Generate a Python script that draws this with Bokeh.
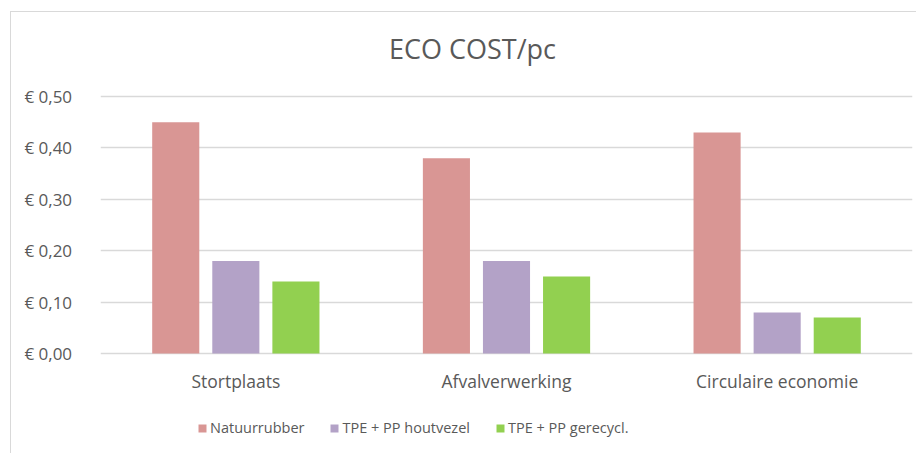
from bokeh.plotting import figure
from bokeh.models import FactorRange, FixedTicker, Legend, LegendItem, ColumnDataSource, Range1d
from bokeh.core.properties import value
from bokeh.transform import dodge
from bokeh.embed import file_html
from bokeh.resources import INLINE

categories = ["Stortplaats", "Afvalverwerking", "Circulaire economie"]
series_names = ["Natuurrubber", "TPE + PP houtvezel", "TPE + PP gerecycl."]
natuurrubber = [0.45, 0.38, 0.43]
tpe_houtvezel = [0.18, 0.18, 0.08]
tpe_gerecycl = [0.14, 0.15, 0.07]
y_ticks = [0.0, 0.1, 0.2, 0.3, 0.4, 0.5]
y_tick_labels = ["€  0,00", "€  0,10", "€  0,20", "€  0,30", "€  0,40", "€  0,50"]
title_text = "ECO COST/pc"
colors = ["#D99694", "#B3A2C7", "#92D050"]

FONT = "Open Sans"
TXT = "#595959"

# layout (pixels)
FRAME_H = 441
PX_PER_UNIT = 514.0           # 0.10 per 51.4 px
ZERO_FROM_TOP = 341           # frame px from top to value 0
y_top = ZERO_FROM_TOP / PX_PER_UNIT
y_bottom = -(FRAME_H - ZERO_FROM_TOP) / PX_PER_UNIT
cat_label_y = -27 / PX_PER_UNIT
title_y = 48 / PX_PER_UNIT + 0.5

source = ColumnDataSource(dict(cat=categories, a=natuurrubber, b=tpe_houtvezel, c=tpe_gerecycl))

p = figure(x_range=FactorRange(*categories, range_padding=0), y_range=Range1d(y_bottom, y_top),
           frame_width=812, frame_height=FRAME_H, output_backend="svg", toolbar_location=None,
           x_axis_location=None,
           min_border_left=89, min_border_right=4, min_border_top=0, min_border_bottom=0)
p.styles = {"border-left": "1px solid #D9D9D9", "border-top": "1px solid #D9D9D9",
            "margin-left": "10px", "margin-top": "11px"}

renderers = []
offsets = [-0.222, 0.0, 0.222]
for key, off, col in zip(["a", "b", "c"], offsets, colors):
    r = p.vbar(x=dodge("cat", off, range=p.x_range), top=key, width=0.174, source=source,
               fill_color=col, line_color=None)
    renderers.append(r)

# category labels
p.text(x=categories, y=[cat_label_y] * len(categories), text=categories,
       text_font=value(FONT), text_font_size="17.5px", text_color=TXT,
       text_align="center", text_baseline="middle")

# chart title
p.text(x=[categories[1]], y=[title_y], text=[title_text], x_offset=-34,
       text_font=value(FONT), text_font_size="27px", text_color=TXT,
       text_align="center", text_baseline="middle")

p.yaxis.ticker = FixedTicker(ticks=y_ticks)
p.yaxis.major_label_overrides = {t: l for t, l in zip(y_ticks, y_tick_labels)}
p.yaxis.axis_line_color = None
p.yaxis.major_tick_line_color = None
p.yaxis.minor_tick_line_color = None
p.yaxis.major_label_standoff = 18
p.yaxis.major_label_text_font = FONT
p.yaxis.major_label_text_font_size = "17px"
p.yaxis.major_label_text_color = TXT

p.xgrid.grid_line_color = None
p.ygrid.grid_line_color = "#D9D9D9"
p.ygrid.grid_line_width = 1.5
p.outline_line_color = None

legend = Legend(items=[LegendItem(label=n, renderers=[r]) for n, r in zip(series_names, renderers)],
                orientation="horizontal", location=(97, 16))
legend.glyph_width = 10
legend.glyph_height = 10
legend.label_standoff = 3
legend.spacing = 25
legend.label_text_font = FONT
legend.label_text_font_size = "14.5px"
legend.label_text_color = TXT
legend.border_line_color = None
legend.background_fill_alpha = 0
legend.margin = 0
legend.padding = 4
p.add_layout(legend, "center")

open("out.html", "w").write(file_html(p, INLINE))
